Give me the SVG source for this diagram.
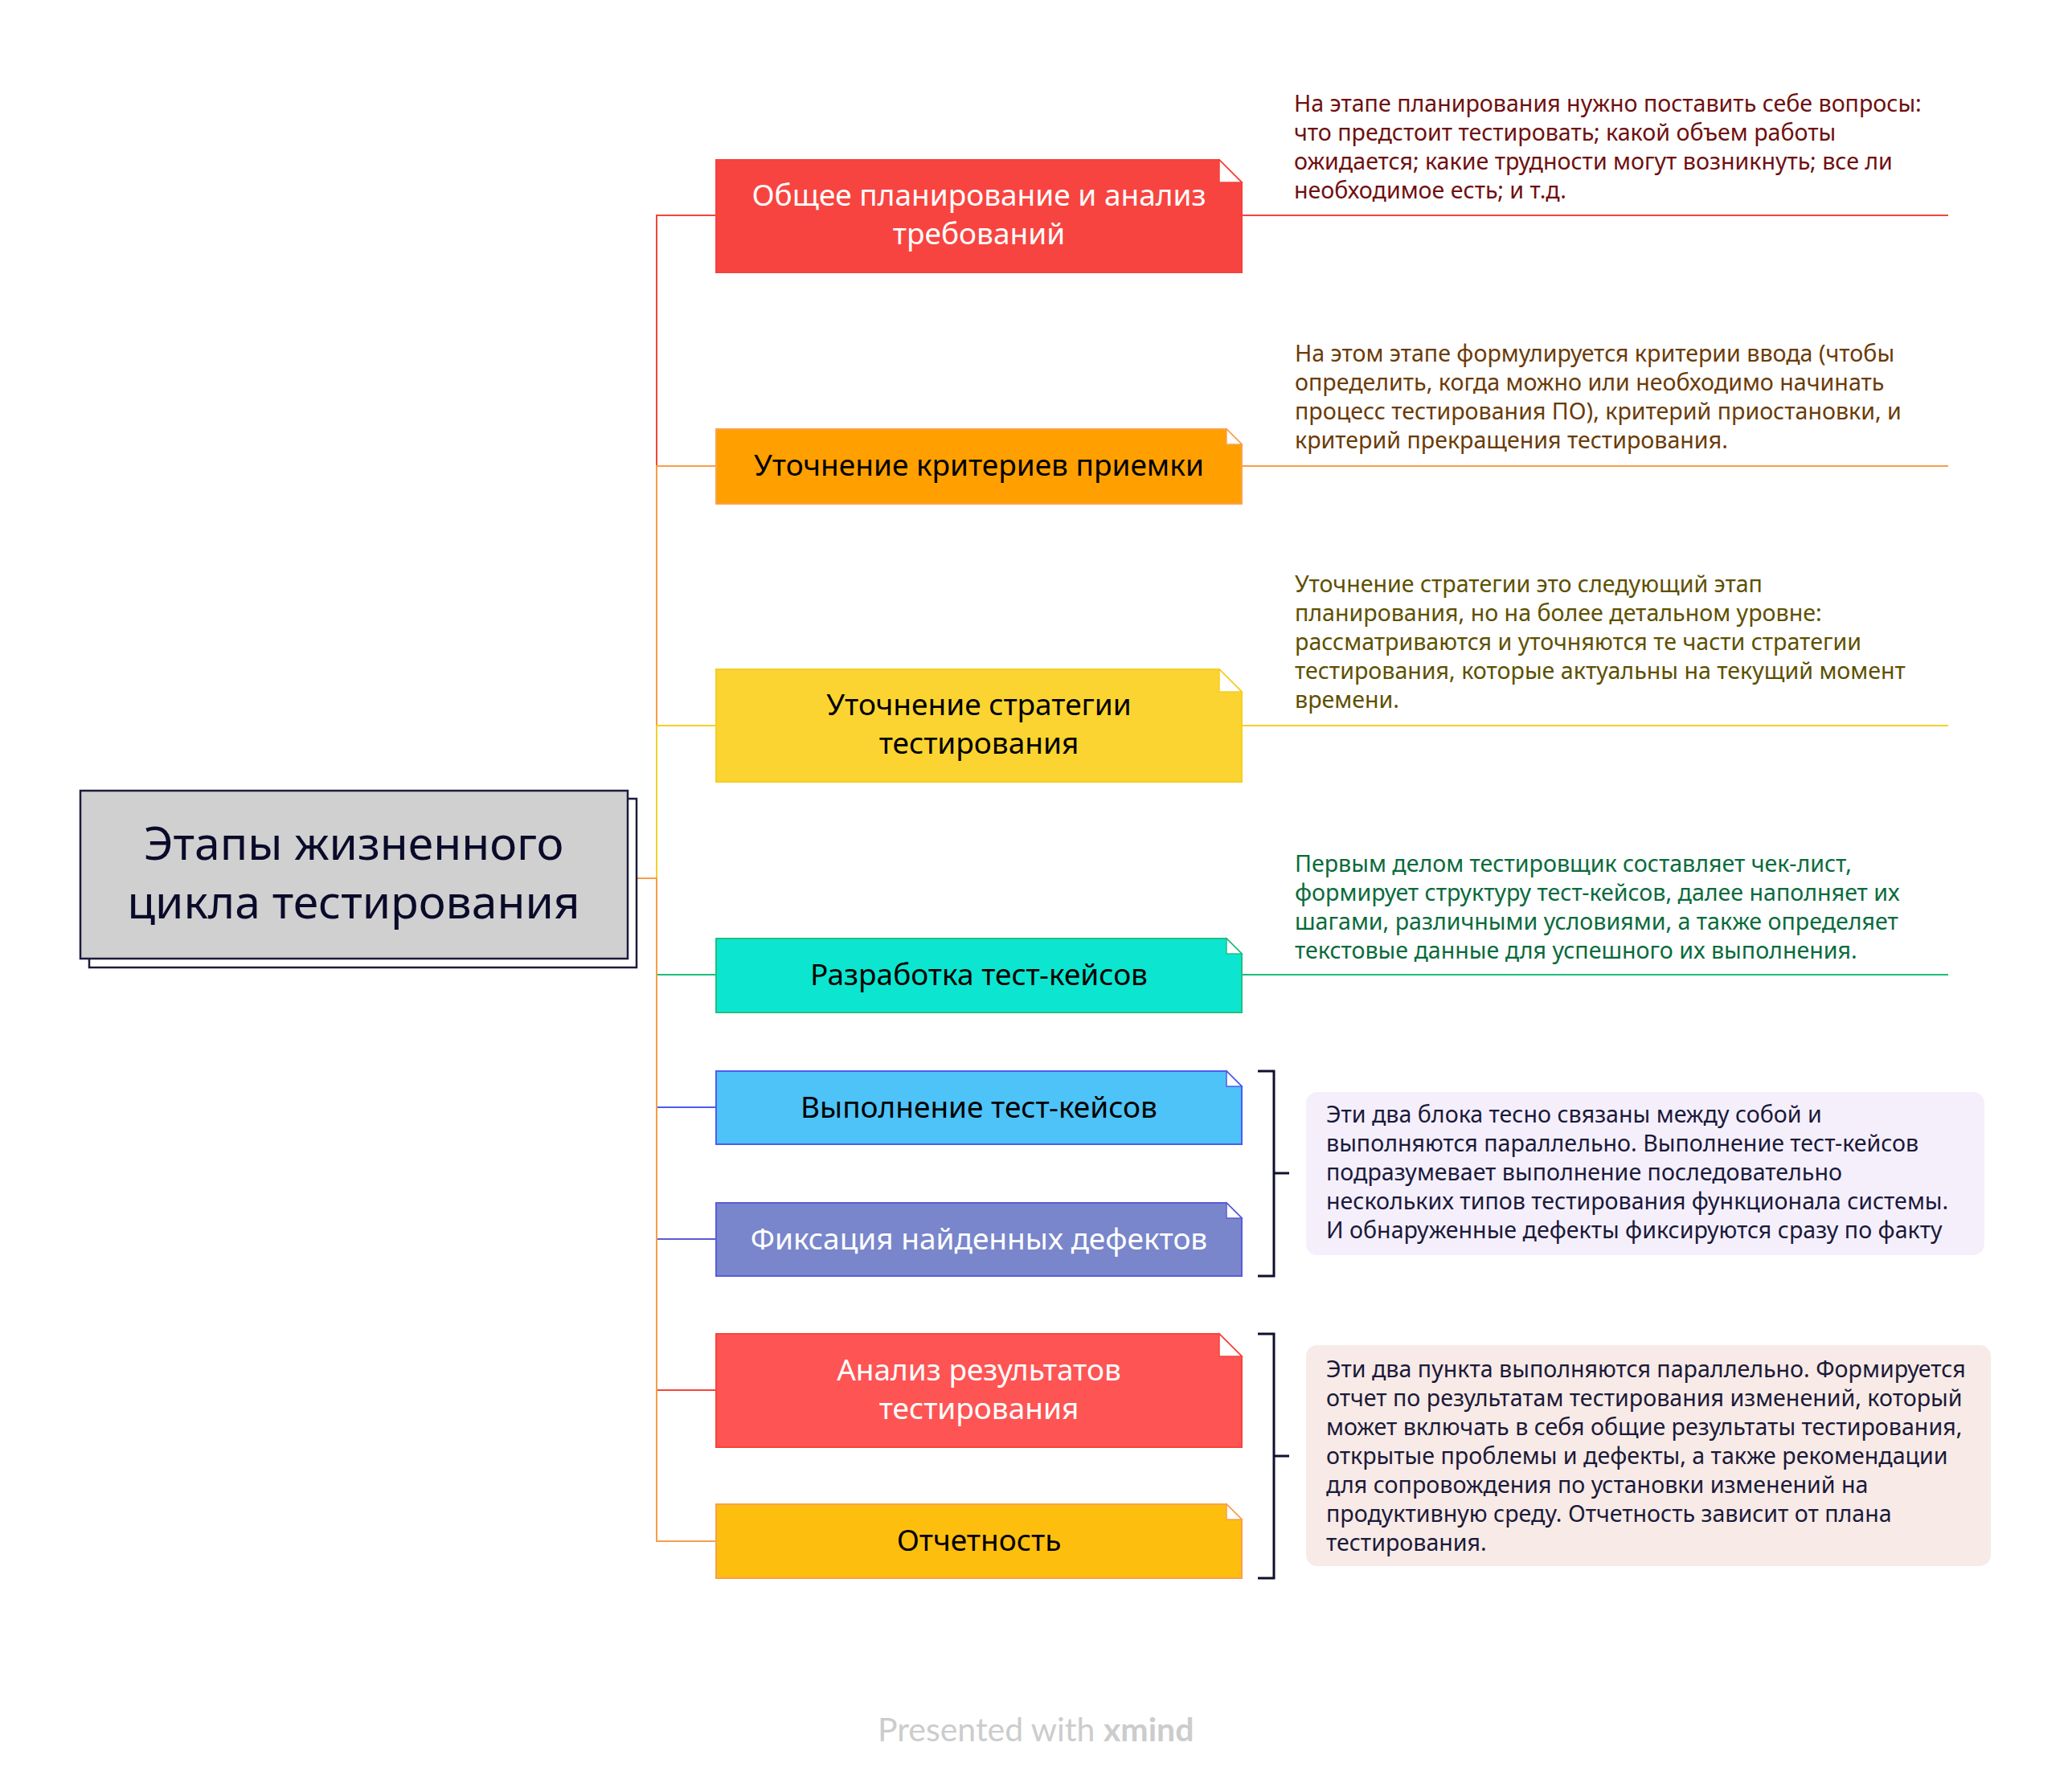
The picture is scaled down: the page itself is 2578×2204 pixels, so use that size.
<svg xmlns="http://www.w3.org/2000/svg" width="2578" height="2204" viewBox="0 0 2578 2204">
<style>
.conn{fill:none;stroke-width:2}
.nt{font-family:"Noto Sans","Open Sans",sans-serif;font-size:37px;text-anchor:middle}
.note{font-family:"Noto Sans","Open Sans",sans-serif;font-size:28.6px}
.flap{fill:#ffffff;stroke-width:1.5}
.node{stroke-width:2}
.br{fill:none;stroke:#10102e;stroke-width:3}
</style>
<rect width="2578" height="2204" fill="#ffffff"/>
<g id="connectors">
<path class="conn" stroke="#f4453b" d="M781 1093H817V268H891"/>
<path class="conn" stroke="#f79d4a" d="M781 1093H817V580H891"/>
<path class="conn" stroke="#f4d028" d="M781 1093H817V903H891"/>
<path class="conn" stroke="#1bbf7b" d="M781 1093H817V1213H891"/>
<path class="conn" stroke="#4a5aef" d="M781 1093H817V1378H891"/>
<path class="conn" stroke="#5b5cd6" d="M781 1093H817V1542H891"/>
<path class="conn" stroke="#f4453b" d="M781 1093H817V1730H891"/>
<path class="conn" stroke="#f79d4a" d="M781 1093H817V1918H891"/>
<path class="conn" stroke="#f4453b" d="M1545 268H2424"/>
<path class="conn" stroke="#f79d4a" d="M1545 580H2424"/>
<path class="conn" stroke="#f4d028" d="M1545 903H2424"/>
<path class="conn" stroke="#1bbf7b" d="M1545 1213H2424"/>
<path class="br" d="M1565 1333H1585V1588H1565M1585 1460H1604"/>
<path class="br" d="M1565 1660H1585V1964H1565M1585 1812H1604"/>
</g>
<g id="root">
<rect x="111" y="994" width="681" height="210" fill="#ffffff" stroke="#1c1c3c" stroke-width="2.5"/>
<rect x="100" y="984" width="681" height="209" fill="#d0d0d0" stroke="#1c1c3c" stroke-width="2.5"/>
<text x="440" y="1070" font-family="Noto Sans, Open Sans, sans-serif" font-size="57" fill="#0a0a2a" text-anchor="middle">Этапы жизненного</text>
<text x="440" y="1143" font-family="Noto Sans, Open Sans, sans-serif" font-size="57" fill="#0a0a2a" text-anchor="middle">цикла тестирования</text>
</g>
<g id="node1">
<path class="node" fill="#f84440" stroke="#f4433a" d="M891 199H1517L1545 227V339H891Z"/>
<path class="flap" stroke="#f4433a" d="M1517 199V227H1545Z"/>
<text class="nt" x="1218" y="256" fill="#ffffff">Общее планирование и анализ</text>
<text class="nt" x="1218" y="304" fill="#ffffff">требований</text>
</g>
<g id="note1">
<text class="note" fill="#6f1010"><tspan x="1610" y="139">На этапе планирования нужно поставить себе вопросы:</tspan><tspan x="1610" y="175">что предстоит тестировать; какой объем работы</tspan><tspan x="1610" y="211">ожидается; какие трудности могут возникнуть; все ли</tspan><tspan x="1610" y="247">необходимое есть; и т.д.</tspan></text>
</g>
<g id="node2">
<path class="node" fill="#ffa000" stroke="#f9a24d" d="M891 534H1526L1545 553V627H891Z"/>
<path class="flap" stroke="#f9a24d" d="M1526 534V553H1545Z"/>
<text class="nt" x="1218" y="592" fill="#000000">Уточнение критериев приемки</text>
</g>
<g id="note2">
<text class="note" fill="#6b3b08"><tspan x="1611" y="450">На этом этапе формулируется критерии ввода (чтобы</tspan><tspan x="1611" y="486">определить, когда можно или необходимо начинать</tspan><tspan x="1611" y="522">процесс тестирования ПО), критерий приостановки, и</tspan><tspan x="1611" y="558">критерий прекращения тестирования.</tspan></text>
</g>
<g id="node3">
<path class="node" fill="#fbd431" stroke="#f4ce25" d="M891 833H1517L1545 861V973H891Z"/>
<path class="flap" stroke="#f4ce25" d="M1517 833V861H1545Z"/>
<text class="nt" x="1218" y="890" fill="#000000">Уточнение стратегии</text>
<text class="nt" x="1218" y="938" fill="#000000">тестирования</text>
</g>
<g id="note3">
<text class="note" fill="#5e5000"><tspan x="1611" y="737">Уточнение стратегии это следующий этап</tspan><tspan x="1611" y="773">планирования, но на более детальном уровне:</tspan><tspan x="1611" y="809">рассматриваются и уточняются те части стратегии</tspan><tspan x="1611" y="845">тестирования, которые актуальны на текущий момент</tspan><tspan x="1611" y="881">времени.</tspan></text>
</g>
<g id="node4">
<path class="node" fill="#0ce6d0" stroke="#20c080" d="M891 1168H1526L1545 1187V1260H891Z"/>
<path class="flap" stroke="#20c080" d="M1526 1168V1187H1545Z"/>
<text class="nt" x="1218" y="1226" fill="#000000">Разработка тест-кейсов</text>
</g>
<g id="note4">
<text class="note" fill="#0a6b3c"><tspan x="1611" y="1085">Первым делом тестировщик составляет чек-лист,</tspan><tspan x="1611" y="1121">формирует структуру тест-кейсов, далее наполняет их</tspan><tspan x="1611" y="1157">шагами, различными условиями, а также определяет</tspan><tspan x="1611" y="1193">текстовые данные для успешного их выполнения.</tspan></text>
</g>
<g id="node5">
<path class="node" fill="#4ec3f7" stroke="#4d5bf0" d="M891 1333H1526L1545 1352V1424H891Z"/>
<path class="flap" stroke="#4d5bf0" d="M1526 1333V1352H1545Z"/>
<text class="nt" x="1218" y="1391" fill="#000000">Выполнение тест-кейсов</text>
</g>
<g id="node6">
<path class="node" fill="#7986cb" stroke="#5b5cd9" d="M891 1497H1526L1545 1516V1588H891Z"/>
<path class="flap" stroke="#5b5cd9" d="M1526 1497V1516H1545Z"/>
<text class="nt" x="1218" y="1555" fill="#ffffff">Фиксация найденных дефектов</text>
</g>
<g id="summary1">
<rect x="1625" y="1359" width="844" height="203" rx="14" fill="#f5effc"/>
<text class="note" fill="#1a1a3a"><tspan x="1650" y="1397">Эти два блока тесно связаны между собой и</tspan><tspan x="1650" y="1433">выполняются параллельно. Выполнение тест-кейсов</tspan><tspan x="1650" y="1469">подразумевает выполнение последовательно</tspan><tspan x="1650" y="1505">нескольких типов тестирования функционала системы.</tspan><tspan x="1650" y="1541">И обнаруженные дефекты фиксируются сразу по факту</tspan></text>
</g>
<g id="node7">
<path class="node" fill="#fe5454" stroke="#f4453b" d="M891 1660H1517L1545 1688V1801H891Z"/>
<path class="flap" stroke="#f4453b" d="M1517 1660V1688H1545Z"/>
<text class="nt" x="1218" y="1718" fill="#ffffff">Анализ результатов</text>
<text class="nt" x="1218" y="1766" fill="#ffffff">тестирования</text>
</g>
<g id="node8">
<path class="node" fill="#fdbe0e" stroke="#f8a04b" d="M891 1872H1526L1545 1891V1964H891Z"/>
<path class="flap" stroke="#f8a04b" d="M1526 1872V1891H1545Z"/>
<text class="nt" x="1218" y="1930" fill="#000000">Отчетность</text>
</g>
<g id="summary2">
<rect x="1625" y="1674" width="852" height="275" rx="14" fill="#f8eae6"/>
<text class="note" fill="#1a1a3a"><tspan x="1650" y="1714">Эти два пункта выполняются параллельно. Формируется</tspan><tspan x="1650" y="1750">отчет по результатам тестирования изменений, который</tspan><tspan x="1650" y="1786">может включать в себя общие результаты тестирования,</tspan><tspan x="1650" y="1822">открытые проблемы и дефекты, а также рекомендации</tspan><tspan x="1650" y="1858">для сопровождения по установки изменений на</tspan><tspan x="1650" y="1894">продуктивную среду. Отчетность зависит от плана</tspan><tspan x="1650" y="1930">тестирования.</tspan></text>
</g>
<g id="watermark">
<text x="1092" y="2167" font-family="Lato, sans-serif" font-size="41" fill="#cccccc">Presented with <tspan font-weight="bold">xmind</tspan></text>
</g>
</svg>
